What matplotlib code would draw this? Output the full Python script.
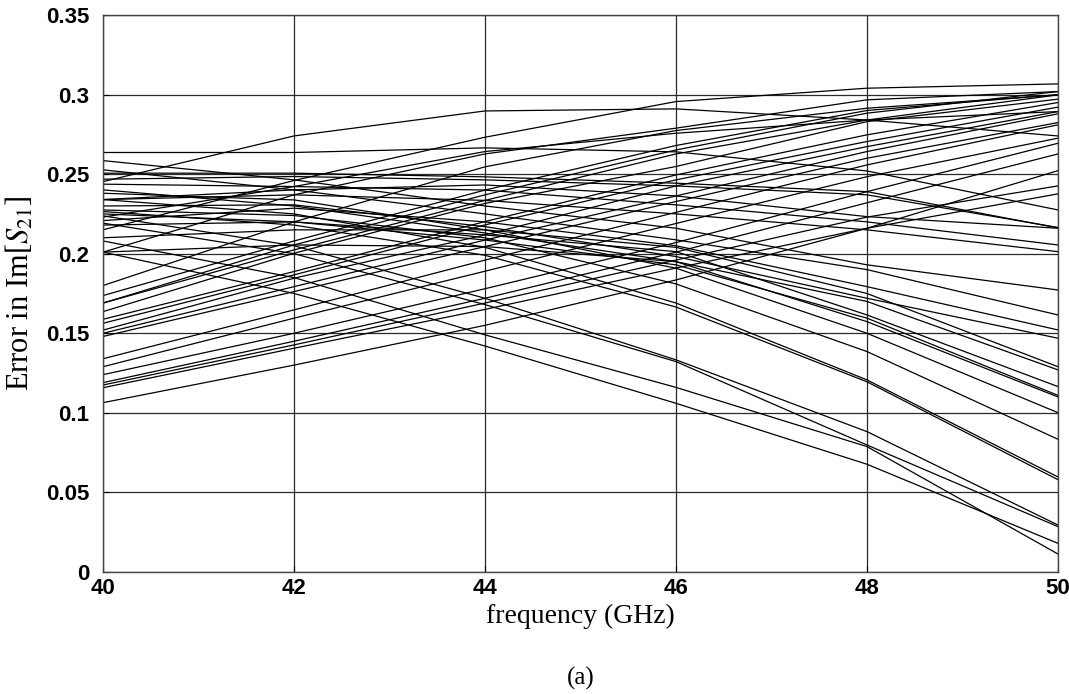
import matplotlib
matplotlib.use("Agg")
import matplotlib.pyplot as plt

plt.rcParams["mathtext.fontset"] = "stix"

freq_ghz = [40, 42, 44, 46, 48, 50]

# Error curves, one row per sample, sampled at freq_ghz
rising = [
    [0.1064, 0.1300, 0.1550, 0.1835, 0.2160, 0.2522],
    [0.1158, 0.1406, 0.1650, 0.1910, 0.2160, 0.2376],
    [0.1175, 0.1427, 0.1690, 0.1960, 0.2230, 0.2426],
    [0.1190, 0.1450, 0.1720, 0.2010, 0.2320, 0.2627],
    [0.1240, 0.1500, 0.1780, 0.2070, 0.2390, 0.2694],
    [0.1290, 0.1595, 0.1890, 0.2190, 0.2484, 0.2726],
    [0.1340, 0.1647, 0.1960, 0.2260, 0.2558, 0.2810],
    [0.1480, 0.1762, 0.2045, 0.2328, 0.2600, 0.2824],
    [0.1500, 0.1793, 0.2086, 0.2363, 0.2642, 0.2879],
    [0.1520, 0.1846, 0.2118, 0.2426, 0.2673, 0.2893],
    [0.1563, 0.1867, 0.2181, 0.2464, 0.2705, 0.2921],
    [0.1588, 0.1888, 0.2202, 0.2495, 0.2747, 0.2950],
    [0.1636, 0.2003, 0.2316, 0.2548, 0.2830, 0.2971],
    [0.1690, 0.2024, 0.2335, 0.2627, 0.2840, 0.2998],
    [0.1690, 0.2055, 0.2370, 0.2652, 0.2883, 0.3019],
    [0.1737, 0.2080, 0.2400, 0.2680, 0.2900, 0.3000],
    [0.1800, 0.2200, 0.2546, 0.2774, 0.2914, 0.2998],
    [0.2010, 0.2370, 0.2627, 0.2789, 0.2967, 0.3019],
    [0.2230, 0.2422, 0.2642, 0.2757, 0.2840, 0.2893],
    [0.2150, 0.2460, 0.2732, 0.2956, 0.3040, 0.3067],
    [0.2453, 0.2740, 0.2897, 0.2910, 0.2840, 0.2740],
]

falling = [
    [0.2636, 0.2636, 0.2665, 0.2640, 0.2520, 0.2275],
    [0.2506, 0.2506, 0.2483, 0.2443, 0.2390, 0.2162],
    [0.2468, 0.2485, 0.2464, 0.2426, 0.2370, 0.2165],
    [0.2340, 0.2401, 0.2432, 0.2363, 0.2233, 0.2160],
    [0.2437, 0.2422, 0.2400, 0.2307, 0.2200, 0.2055],
    [0.2340, 0.2370, 0.2335, 0.2250, 0.2150, 0.2013],
    [0.2585, 0.2464, 0.2300, 0.2160, 0.1930, 0.1772],
    [0.2527, 0.2401, 0.2250, 0.2087, 0.1900, 0.1615],
    [0.2208, 0.2286, 0.2200, 0.2050, 0.1793, 0.1521],
    [0.2300, 0.2307, 0.2170, 0.1982, 0.1720, 0.1469],
    [0.2380, 0.2338, 0.2150, 0.1909, 0.1500, 0.1001],
    [0.2401, 0.2300, 0.2130, 0.1950, 0.1573, 0.1100],
    [0.2250, 0.2200, 0.2086, 0.1930, 0.1595, 0.1110],
    [0.2180, 0.2200, 0.2118, 0.2013, 0.1615, 0.1165],
    [0.2010, 0.2055, 0.2045, 0.1950, 0.1700, 0.1270],
    [0.2100, 0.2150, 0.2150, 0.2040, 0.1750, 0.1290],
    [0.2340, 0.2250, 0.2040, 0.1690, 0.1207, 0.0597],
    [0.2265, 0.2180, 0.1990, 0.1665, 0.1195, 0.0580],
    [0.2275, 0.2240, 0.2100, 0.1810, 0.1385, 0.0834],
    [0.2010, 0.1750, 0.1420, 0.1060, 0.0677, 0.0180],
    [0.2080, 0.1850, 0.1490, 0.1160, 0.0788, 0.0113],
    [0.2238, 0.2050, 0.1720, 0.1333, 0.0882, 0.0295],
    [0.2192, 0.2000, 0.1680, 0.1322, 0.0798, 0.0285],
]

x_ticks = [40, 42, 44, 46, 48, 50]
y_ticks = [0, 0.05, 0.1, 0.15, 0.2, 0.25, 0.3, 0.35]
y_tick_labels = ["0", "0.05", "0.1", "0.15", "0.2", "0.25", "0.3", "0.35"]

fig = plt.figure(figsize=(10.69, 6.94), dpi=100)
ax = fig.add_axes([0.0964, 0.1758, 0.8933, 0.8026])

for curve in rising + falling:
    ax.plot(freq_ghz, curve, color="black", linewidth=0.9)

ax.set_xlim(40, 50)
ax.set_ylim(0, 0.35)
ax.set_xticks(x_ticks)
ax.set_yticks(y_ticks)
ax.set_yticklabels(y_tick_labels)
ax.grid(True, color="#2a2a2a", linewidth=0.9)
ax.set_axisbelow(True)

for lab in ax.get_xticklabels() + ax.get_yticklabels():
    lab.set_fontfamily("Liberation Sans")
    lab.set_fontweight("bold")
    lab.set_fontsize(16)
ax.tick_params(axis="y", direction="in", length=4, width=0.8, pad=10)
ax.tick_params(axis="x", direction="in", length=4, width=0.8, pad=4)

for side in ax.spines.values():
    side.set_linewidth(1.0)
    side.set_color("#444444")

ax.set_xlabel("frequency (GHz)", fontfamily="Liberation Serif", fontsize=20, labelpad=4)
ax.set_ylabel("Error in Im[$S_{21}$]", fontfamily="Liberation Serif", fontsize=22, labelpad=7)

fig.text(0.543, 0.006, "(a)", ha="center", va="bottom",
         fontfamily="Liberation Serif", fontsize=18)

fig.savefig("out.png", dpi=100)
